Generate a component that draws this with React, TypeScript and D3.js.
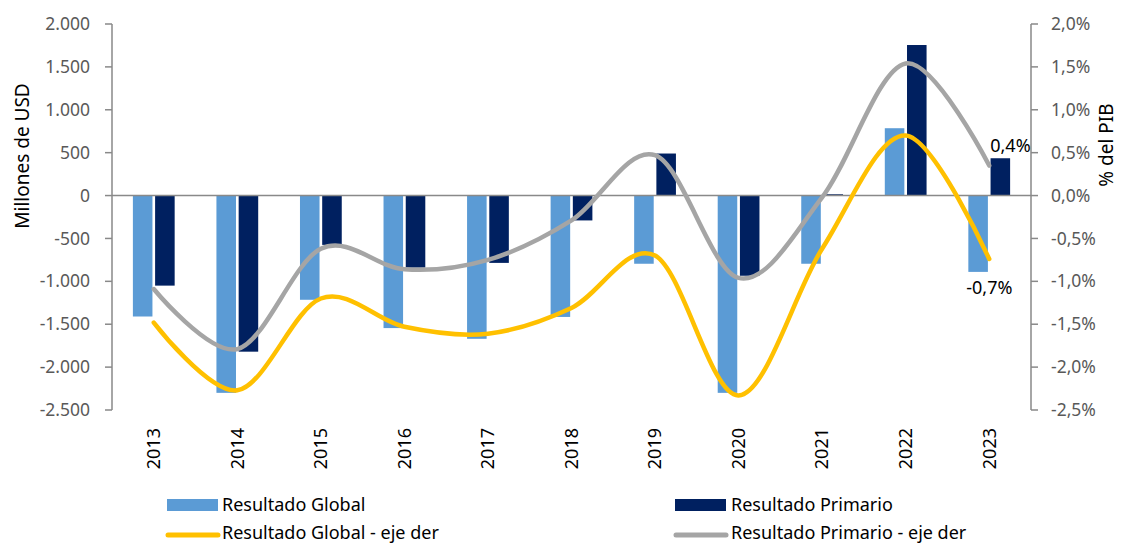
import React from 'react';
import * as d3 from 'd3';

const years = ['2013', '2014', '2015', '2016', '2017', '2018', '2019', '2020', '2021', '2022', '2023'];
const resultadoGlobal = [-1410, -2300, -1215, -1545, -1670, -1415, -795, -2300, -795, 785, -890];
const resultadoPrimario = [-1050, -1820, -575, -840, -785, -290, 490, -935, 15, 1755, 435];
const globalPib = [-1.48, -2.27, -1.2, -1.53, -1.61, -1.31, -0.7, -2.33, -0.62, 0.7, -0.74];
const primarioPib = [-1.09, -1.79, -0.62, -0.86, -0.75, -0.29, 0.47, -0.96, -0.02, 1.54, 0.35];
const leftTicks = [-2500, -2000, -1500, -1000, -500, 0, 500, 1000, 1500, 2000];
const rightTicks = [-2.5, -2, -1.5, -1, -0.5, 0, 0.5, 1, 1.5, 2];

const W = 1123;
const H = 544;
const left = 112;
const right = 1031;
const top = 24;
const bottom = 410;
const font = "'Noto Sans', sans-serif";

const fmtLeft = (v: number) => d3.format(',')(v).replace(/,/g, '.').replace(/\u2212/g, '-');
const fmtRight = (v: number) => v.toFixed(1).replace('.', ',') + '%';

export default function App() {
  const x = d3.scaleBand<string>().domain(years).range([left, right]);
  const bw = x.bandwidth();
  const x1 = d3.scaleBand<string>().domain(['g', 'p']).range([bw * 0.25, bw * 0.75]).paddingInner(0.12);
  const y = d3.scaleLinear().domain([-2500, 2000]).range([bottom, top]);
  const yR = d3.scaleLinear().domain([-2.5, 2]).range([bottom, top]);
  const cx = (i: number) => (x(years[i]) as number) + bw / 2;

  const line = d3
    .line<number>()
    .x((_, i) => cx(i))
    .y(d => yR(d))
    .curve(d3.curveCardinal.tension(0));

  const bar = (vals: number[], key: string, color: string) =>
    vals.map((v, i) => (
      <rect
        key={key + i}
        x={(x(years[i]) as number) + (x1(key) as number)}
        y={Math.min(y(v), y(0))}
        width={x1.bandwidth()}
        height={Math.abs(y(v) - y(0))}
        fill={color}
      />
    ));

  const last = years.length - 1;

  return (
    <svg width={W} height={H} style={{ position: 'absolute', left: 0, top: 0, background: '#fff' }} fontFamily={font}>
      {bar(resultadoGlobal, 'g', '#5B9BD5')}
      {bar(resultadoPrimario, 'p', '#002060')}
      <line x1={left} x2={right} y1={y(0)} y2={y(0)} stroke="#898989" strokeWidth={1.5} />

      <path d={line(primarioPib) || ''} fill="none" stroke="#A5A5A5" strokeWidth={4.5} strokeLinecap="round" />
      <path d={line(globalPib) || ''} fill="none" stroke="#FFC000" strokeWidth={4.5} strokeLinecap="round" />

      {/* left axis */}
      <line x1={left} x2={left} y1={top} y2={bottom} stroke="#898989" strokeWidth={1.5} />
      {leftTicks.map(t => (
        <g key={'l' + t}>
          <line x1={left - 7} x2={left} y1={y(t)} y2={y(t)} stroke="#898989" strokeWidth={1.5} />
          <text x={90} y={y(t)} dy="0.35em" textAnchor="end" fontSize={17.5} fill="#595959">
            {fmtLeft(t)}
          </text>
        </g>
      ))}
      {/* right axis */}
      <line x1={right} x2={right} y1={top} y2={bottom} stroke="#898989" strokeWidth={1.5} />
      {rightTicks.map(t => (
        <g key={'r' + t}>
          <line x1={right} x2={right + 7} y1={yR(t)} y2={yR(t)} stroke="#898989" strokeWidth={1.5} />
          <text x={1051} y={yR(t)} dy="0.35em" textAnchor="start" fontSize={17.5} fill="#595959">
            {fmtRight(t)}
          </text>
        </g>
      ))}

      {years.map((yr, i) => (
        <text
          key={yr}
          transform={`translate(${cx(i)},428) rotate(-90)`}
          dy="0.35em"
          textAnchor="end"
          fontSize={18}
          fill="#000"
        >
          {yr}
        </text>
      ))}

      <text transform="translate(22,156) rotate(-90)" dy="0.35em" textAnchor="middle" fontSize={19}>
        Millones de USD
      </text>
      <text transform="translate(1106,145) rotate(-90)" dy="0.35em" textAnchor="middle" fontSize={19}>
        % del PIB
      </text>

      <text x={cx(last) + 1} y={yR(primarioPib[last]) - 20} dy="0.35em" fontSize={18}>
        {fmtRight(0.4)}
      </text>
      <text x={cx(last) - 23} y={yR(globalPib[last]) + 29} dy="0.35em" fontSize={18}>
        {fmtRight(-0.7)}
      </text>

      {/* legend */}
      <rect x={167} y={499} width={51} height={12} fill="#5B9BD5" />
      <text x={222} y={505} dy="0.35em" fontSize={18}>Resultado Global</text>
      <rect x={675} y={499} width={51} height={12} fill="#002060" />
      <text x={731} y={505} dy="0.35em" fontSize={18}>Resultado Primario</text>
      <line x1={168} x2={218} y1={535} y2={535} stroke="#FFC000" strokeWidth={5} strokeLinecap="round" />
      <text x={222} y={533} dy="0.35em" fontSize={18}>Resultado Global - eje der</text>
      <line x1={676} x2={726} y1={535} y2={535} stroke="#A5A5A5" strokeWidth={5} strokeLinecap="round" />
      <text x={731} y={533} dy="0.35em" fontSize={18}>Resultado Primario -  eje der</text>
    </svg>
  );
}
